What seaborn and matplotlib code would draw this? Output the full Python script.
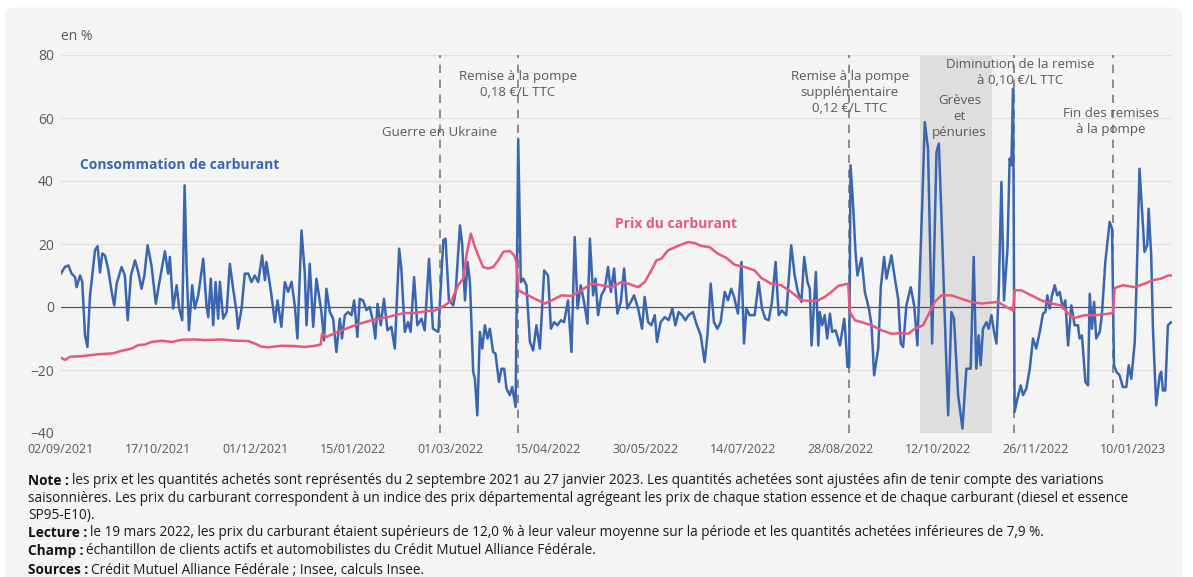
import matplotlib
matplotlib.use('Agg')
import matplotlib.pyplot as plt
import matplotlib.dates as mdates
from matplotlib.patches import FancyBboxPatch
import pandas as pd
import seaborn as sns

sns.set_theme(style='white')
plt.rcParams['font.family'] = ['Open Sans', 'DejaVu Sans']

###
### DONNEES (jours depuis le 02/09/2021, écart en %)
###

debut = pd.Timestamp('2021-09-02')

# Consommation de carburant
conso_jour = [
    0, 1.8, 3.4, 4.9, 6.5, 7.2, 8.8, 9.8, 11.1, 12.2,
    13.4, 14.2, 15.7, 16.9, 18, 19.1, 20.3, 21.8, 23.4, 24.6,
    25.7, 28, 29.5, 30.8, 32.3, 34.2, 35.7, 37.2, 38.5, 40,
    41.8, 43.8, 45.2, 48, 49.5, 50.3, 51.8, 53.4, 54.6, 56,
    57.1, 58, 59.1, 60.6, 61.8, 63.4, 65.7, 67.2, 68, 69.2,
    70.3, 71.4, 72.6, 73.4, 74.9, 76.5, 78, 79.5, 81.1, 81.8,
    83.4, 84.9, 86.5, 88, 89.5, 91.1, 92.9, 94.2, 94.9, 96.9,
    98.8, 100, 101.8, 103.4, 104.9, 106.5, 108, 109.2, 111.1, 112.6,
    113.4, 114.9, 116.5, 118, 120.3, 121.5, 122.6, 124.2, 125.7, 127.2,
    128.8, 129.8, 131.1, 132.6, 134.2, 135.4, 136.9, 138, 139.5, 141.1,
    142.6, 144.2, 145.2, 146.2, 147.7, 149.2, 150.8, 152.6, 154.2, 156.2,
    157.2, 158.8, 160.3, 161.5, 163.1, 164.6, 166.5, 168, 170, 171.8,
    174.3, 176.6, 177.6, 179.2, 181.2, 182.3, 184.3, 185.3, 186.6, 187.8,
    188.9, 190.4, 191.2, 192.3, 193.5, 194.6, 195.8, 197, 198.1, 199.6,
    200.7, 202.3, 203.5, 204.7, 205.8, 207.3, 208.4, 210, 211.2, 212.4,
    213.5, 215, 216.6, 218.1, 219.6, 221.2, 223.2, 225, 226.3, 227.8,
    229.3, 230.9, 232.4, 234.2, 235.8, 237.3, 238.6, 240.1, 241.6, 243.2,
    244.3, 245.8, 246.9, 248.1, 249.6, 251.2, 252.7, 254, 255.5, 257,
    258.6, 260.1, 261.6, 263.2, 264.7, 266.6, 268.4, 269.6, 271.2, 272.7,
    274.3, 275.3, 277, 278.9, 280.7, 282.4, 283.8, 285.3, 286.9, 288.4,
    289.9, 291.9, 293.5, 295.5, 297.3, 298.6, 300.1, 301.6, 303.2, 304.7,
    306.6, 308.1, 309.6, 310.9, 312.7, 314.3, 315.5, 316.6, 318.1, 320.4,
    322.3, 323.8, 325.3, 326.9, 328.4, 330.1, 331.5, 333, 335, 337.3,
    338.9, 340.4, 342,
    343.3, 344.8, 345.9, 346.7, 347.9, 348.7, 349.8, 350.5, 351.6, 352.8,
    353.9, 355.2, 356.2, 357.8, 359.8, 361.8, 362.4, 363.3, 364.1, 364.7,
    365.9, 367, 367.9, 369.8, 371.3, 373.2, 374.4, 375.6, 377.5, 378.7,
    380.2, 381.3, 383.6, 385.2, 386.7, 387.9, 389, 390.5, 392.5, 394.1,
    395.6, 397.8, 399, 400.5, 402.4, 404.4, 405.5, 406.7, 408.2, 409.8,
    411.3, 412.5, 414.4, 416.4, 418.2, 420.2, 421.6, 422.8, 423.9, 424.8,
    425.9, 427.5, 428.5, 429.8, 431, 432.1, 433.2, 434.4, 435.6, 437.2,
    438.2, 439, 439.8, 440.5, 441.8, 443.3, 444.4, 445.9, 447.5, 449,
    450.5, 452.1, 453.6, 454.7, 455.6, 456.7, 457.8, 459, 460.2, 461.3,
    462.8, 463.9, 465.2, 466.7, 468.2, 469.8, 470.5, 471.6, 473.2, 474.4,
    475.2, 476.2, 477.2, 478.2, 479.8, 480.8, 482.4, 484.4, 485.5, 486.4,
    487.5, 489, 490.5, 492.1, 493.2, 494.4, 496, 496.7, 498.2, 499.3,
    500.5, 501.8, 502.4, 503.6, 504.4, 505.9, 507.5, 508.2, 509, 510.1,
    511.3, 512.8,
]
conso_val = [
    10.6, 12.7, 13.2, 10.6, 9.5, 6.3, 10.0, 8.0, -9.0, -12.7,
    3.7, 8.5, 18.0, 19.3, 11.0, 17.0, 16.4, 12.0, 4.8, 0.5,
    7.4, 12.7, 10.0, -4.2, 10.0, 14.8, 11.0, 5.8, 10.0, 19.6,
    13.2, 1.0, 6.9, 17.7, 10.6, 15.9, -0.5, 6.9, -0.5, -4.2,
    38.6, 13.0, -7.4, 6.9, -0.5, 3.7, 15.3, 0.5, -3.2, 9.0,
    -5.8, 7.9, -3.7, 8.0, -3.7, -1.6, 13.7, 5.8, -1.6, -6.9,
    -0.5, 10.6, 10.6, 7.9, 10.0, 7.9, 16.4, 8.5, 14.3, 5.3,
    -4.8, 2.1, -6.3, 7.9, 4.8, 8.0, 0.5, -10.0, 24.3, 11.0,
    -5.8, 13.7, -6.3, 9.0, -1.6, -10.6, 5.8, -1.6, -3.7, -14.3,
    -3.7, -10.0, -2.6, -1.6, -2.6, 2.1, -9.5, 2.6, 2.1, -1.0,
    0.0, -4.8, -10.0, 1.0, -5.8, 2.6, -7.4, -6.3, -13.2, 18.5,
    12.2, -7.9, -4.8, -7.9, 9.5, -5.8, -3.7, -7.4, 15.3, -6.9,
    -7.9, 21.2, 21.7, 2.1, 0.5, 4.8, 25.9, 20.1, 2.1, 14.3,
    7.9, -20.6, -22.8, -34.4, -7.9, -13.2, -5.8, -10.0, -6.9, -14.3,
    -14.8, -23.8, -19.6, -19.6, -25.9, -28.0, -25.4, -31.7, 53.4, 7.9,
    9.0, 6.9, -11.1, -13.8, -5.8, -13.2, 11.6, 10.0, -6.9, -4.8,
    -5.8, -4.2, -4.8, 2.1, -14.3, 22.2, -0.5, 6.9, 1.6, -5.3,
    21.7, 3.7, 9.0, -2.6, 3.7, 5.8, 12.7, 4.8, 12.2, -2.1,
    1.6, 12.2, -0.5, 1.6, 3.7, -0.5, -6.9, 3.2, -4.8, -5.8,
    -2.6, -11.1, -4.8, -3.2, -4.2, -0.5, -5.8, -1.6, -2.6, -4.2,
    -2.6, -1.6, -5.3, -9.0, -17.5, -9.0, 7.4, -4.8, -6.9, -4.8,
    4.8, 2.1, 5.8, 3.2, -2.1, 14.3, -11.6, -0.5, -2.6, -2.6,
    7.9, -0.5, -3.7, -4.2, 1.6, 14.3, -2.6, -1.1, -2.6, 19.6,
    10.0, 4.8, 1.6,
    15.9, 7.9, 5.8, -12.2, 1.6, 11.1, -12.2, -1.6, -5.8, -2.6,
    -10.0, -2.1, -7.9, -7.4, -12.2, -3.7, -9.0, -19.0, -19.0, 45.0,
    32.3, 17.5, 10.0, 15.6, 4.8, -0.5, -5.8, -21.7, -13.2, 6.3,
    15.9, 9.0, 16.4, 9.0, 2.6, -11.6, -12.7, 0.5, 6.3, 0.5,
    -12.2, 32.3, 58.7, 50.3, -11.6, 49.2, 51.9, 29.1, -2.6, -34.4,
    -1.6, -3.7, -28.0, -38.6, -19.6, -19.6, 15.9, -19.6, -9.0, -18.5,
    -6.9, -4.8, -6.9, -2.6, -7.9, -11.6, 5.8, 39.7, 2.1, 18.5,
    47.1, 45.0, 69.3, -33.3, -29.1, -24.9, -28.0, -25.9, -19.6, -10.0,
    -13.2, -7.9, -2.1, -1.6, 3.7, -0.5, 3.7, 6.9, 3.7, 4.8,
    -0.5, 2.1, -12.2, 0.5, -5.8, -5.8, -10.0, -9.0, -23.8, -24.9,
    4.2, -6.9, 1.6, -10.0, -7.9, -2.6, 14.3, 27.0, 24.9, -18.5,
    -20.6, -21.7, -25.4, -25.4, -18.5, -22.8, -11.1, 4.8, 43.9, 31.2,
    17.5, 19.6, 31.2, 16.4, -6.9, -31.2, -21.7, -20.6, -26.5, -26.5,
    -5.8, -4.8,
]

# Prix du carburant
prix_jour = [
    0, 1.8, 4.2, 9.5, 17.2, 24.2, 28, 32.6, 35.7, 38.8,
    41.8, 46.5, 51.1, 55.7, 61.8, 66.5, 74.2, 80.3, 86.5, 89.5,
    92.6, 95.7, 101.8, 108, 112.6, 117.2, 120, 120.6, 122.6, 128,
    135.7, 143.4, 151.1, 154.2, 158.8, 163.4, 168, 172.7, 177.3, 180.4,
    183.5, 185.8, 187.3, 189.3, 191.2, 192.7, 195, 197.3, 199.6, 202,
    204.3, 207.3, 209.3, 210.4, 211.2, 214.3, 218.9, 223.5, 228.1, 231.2,
    235.8, 240.4, 245, 249.6, 254.3, 258.9, 262, 266.6, 269.6, 272.7,
    275, 277.3, 280.4, 285, 289.6, 292.7, 295.8, 299.6, 303.5, 307.3,
    311.2, 315.8, 320.4, 323.5, 328.1, 332.7, 337.3, 342.1, 346.7, 349.8,
    352.8, 355.9, 359, 363.6, 364.4, 366.7, 369.8, 374.4, 379, 383.6,
    388.2, 391.3, 394.4, 398.2, 401.3, 403.6, 406.7, 411.3, 415.9, 420.5,
    425.2, 429.8, 432.8, 436.7, 439.8, 440.5, 443.6, 448.2, 452.8, 457.5,
    462.1, 465.2, 468.2, 472.8, 477.5, 482.1, 485.9, 486.7, 490.5, 495.9,
    500.5, 504.4, 508.2, 511.3, 512.8,
]
prix_val = [
    -16.1, -16.8, -15.8, -15.6, -15.0, -14.7, -13.9, -13.2, -12.1, -11.9,
    -11.1, -10.7, -11.1, -10.4, -10.3, -10.5, -10.3, -10.7, -10.8, -11.6,
    -12.6, -12.8, -12.3, -12.4, -12.7, -12.3, -11.9, -8.4, -9.5, -7.9,
    -5.8, -4.2, -3.2, -2.6, -1.9, -1.9, -1.4, -1.1, 0.5, 2.1,
    6.9, 9.0, 16.4, 23.3, 19.0, 16.4, 12.7, 12.2, 12.7, 14.8,
    17.5, 17.8, 16.4, 14.3, 5.3, 4.2, 2.6, 1.1, 2.6, 3.7,
    3.5, 5.3, 7.4, 6.9, 6.3, 7.9, 7.4, 6.3, 7.9, 11.6,
    14.8, 15.3, 18.0, 19.4, 20.6, 20.3, 19.4, 19.0, 16.9, 15.6,
    13.4, 12.7, 11.6, 9.2, 7.4, 6.9, 4.8, 2.1, 1.9, 2.1,
    3.2, 4.8, 6.7, 7.4, -1.6, -4.2, -4.8, -5.8, -7.4, -8.5,
    -8.3, -8.5, -6.9, -5.8, -1.6, 1.6, 3.7, 3.7, 2.6, 1.6,
    1.1, 1.4, 1.6, 0.0, -1.1, 5.3, 5.3, 3.7, 2.1, 1.1,
    0.5, -2.1, -3.5, -2.6, -2.6, -2.3, -1.9, 6.0, 6.9, 6.3,
    7.4, 8.5, 9.0, 10.0, 10.0,
]

# Evénements
evenements = ['2022-02-24', '2022-04-01', '2022-09-01', '2022-11-16', '2023-01-01']
greves = ('2022-10-04', '2022-11-06')

df_conso = pd.DataFrame({'date': debut + pd.to_timedelta(conso_jour, unit='D'),
                         'valeur': conso_val})
df_prix = pd.DataFrame({'date': debut + pd.to_timedelta(prix_jour, unit='D'),
                        'valeur': prix_val})

BLEU = '#3a66b0'
ROSE = '#e8587a'
GRIS = '#595959'

fig = plt.figure(figsize=(11.93, 5.77), dpi=100, facecolor='white')
fond = FancyBboxPatch((0.004, -0.05), 0.987, 1.037,
                      boxstyle='round,pad=0,rounding_size=0.012',
                      transform=fig.transFigure, facecolor='#f4f4f4',
                      edgecolor='none', zorder=-10)
fig.patches.append(fond)
ax = fig.add_axes([61 / 1193, 1 - 433 / 577, (1172 - 61) / 1193, 378 / 577])
ax.set_zorder(1)
ax.set_facecolor('none')

# zone grisée : grèves et pénuries
ax.axvspan(pd.Timestamp(greves[0]), pd.Timestamp(greves[1]), color='#dedede', lw=0, zorder=0)

for y in [-40, -20, 20, 40, 60, 80]:
    ax.axhline(y, color='#e1e1e1', lw=0.9, zorder=0.5)
ax.axhline(0, color='#555555', lw=0.9, zorder=1)

for d in evenements:
    ax.axvline(pd.Timestamp(d), color='#7a7a7a', lw=1.2, ls=(0, (5, 4)), zorder=1.2)

sns.lineplot(data=df_prix, x='date', y='valeur', color=ROSE, lw=1.8, ax=ax,
             estimator=None, zorder=3)
sns.lineplot(data=df_conso, x='date', y='valeur', color=BLEU, lw=1.8, ax=ax,
             estimator=None, zorder=2)

ax.set_ylim(-40, 80)
ax.set_xlim(debut, debut + pd.Timedelta(days=513.2))
ax.set_yticks([-40, -20, 0, 20, 40, 60, 80])
ax.set_xlabel('')
ax.set_ylabel('')
for s in ax.spines.values():
    s.set_visible(False)

majeurs = pd.date_range(debut, periods=12, freq='45D')
mineurs = pd.date_range(debut, periods=35, freq='15D')
ax.set_xticks(majeurs)
ax.set_xticks(mineurs, minor=True)
ax.xaxis.set_major_formatter(mdates.DateFormatter('%d/%m/%Y'))
ax.tick_params(axis='x', which='both', direction='in', length=4, color='#cfcfcf',
               labelsize=9, labelcolor=GRIS, pad=7)
ax.tick_params(axis='y', length=0, labelsize=10, labelcolor=GRIS, pad=5)
ax.text(0, 1.048, 'en %', transform=ax.transAxes, fontsize=10, color=GRIS,
        ha='left', va='center')

def jour(n):
    return mdates.date2num(debut + pd.Timedelta(days=n))

ax.text(jour(55), 45, 'Consommation de carburant', color=BLEU, fontsize=10,
        fontweight='bold', ha='center', va='center')
ax.text(jour(284), 26.3, 'Prix du carburant', color=ROSE, fontsize=10,
        fontweight='bold', ha='center', va='center')

annot = dict(fontsize=9.5, color=GRIS, ha='center', va='center', linespacing=1.3, zorder=4)
ax.text(jour(175), 55.5, 'Guerre en Ukraine', **annot)
ax.text(jour(211), 70.6, 'Remise à la pompe\n0,18 €/L TTC', **annot)
ax.text(jour(364.4), 68, 'Remise à la pompe\nsupplémentaire\n0,12 €/L TTC', **annot)
ax.text(jour(415), 60.5, 'Grèves\net\npénuries', **annot)
ax.text(jour(443), 74.6, 'Diminution de la remise\nà 0,10 €/L TTC', **annot)
ax.text(jour(485), 59, 'Fin des remises\nà la pompe', **annot)

# Notes sous le graphique
TAILLE_NOTE = 9.8

def note(y, gras, reste):
    t = fig.text(28 / 1193, 1 - y / 577, gras, fontsize=TAILLE_NOTE, fontweight='bold',
                 color='#111111', ha='left', va='center', zorder=5)
    if reste:
        fig.add_artist(matplotlib.text.Annotation(
            reste, xy=(1, 0.5), xycoords=t, xytext=(2, 0),
            textcoords='offset points', fontsize=TAILLE_NOTE, color='#1a1a1a',
            ha='left', va='center', zorder=5))

note(481, 'Note :', 'les prix et les quantités achetés sont représentés du 2 septembre 2021 '
     'au 27 janvier 2023. Les quantités achetées sont ajustées afin de tenir compte des variations')
fig.text(28 / 1193, 1 - 498 / 577, 'saisonnières. Les prix du carburant correspondent à un indice '
         'des prix départemental agrégeant les prix de chaque station essence et de chaque '
         'carburant (diesel et essence', fontsize=TAILLE_NOTE, color='#1a1a1a',
         ha='left', va='center')
fig.text(28 / 1193, 1 - 515 / 577, 'SP95-E10).', fontsize=TAILLE_NOTE, color='#1a1a1a',
         ha='left', va='center')
note(533, 'Lecture :', 'le 19 mars 2022, les prix du carburant étaient supérieurs de 12,0 % à '
     'leur valeur moyenne sur la période et les quantités achetées inférieures de 7,9 %.')
note(551, 'Champ :', 'échantillon de clients actifs et automobilistes du Crédit Mutuel '
     'Alliance Fédérale.')
note(570, 'Sources :', 'Crédit Mutuel Alliance Fédérale ; Insee, calculs Insee.')

fig.savefig('out.png', dpi=100, facecolor=fig.get_facecolor())
